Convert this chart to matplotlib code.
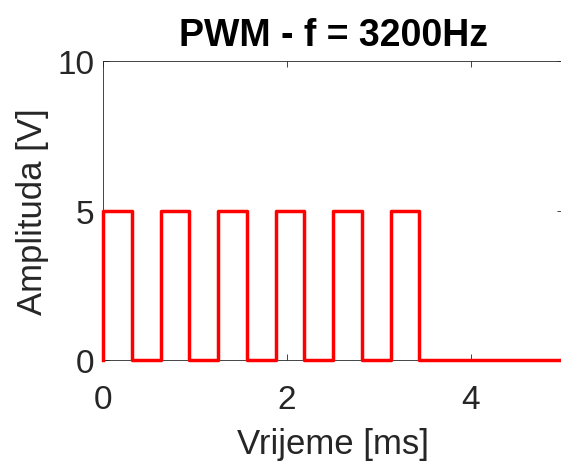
import matplotlib
matplotlib.use("Agg")
import matplotlib.pyplot as plt

plt.rcParams['font.family'] = ['Liberation Sans', 'DejaVu Sans']

# Data: transition times (ms) and signal levels (V)
t_ms = [0, 0, 0.3125, 0.625, 0.9375, 1.25, 1.5625, 1.875, 2.1875, 2.5, 2.8125, 3.125, 3.4375, 5.0]
v_volt = [0, 5, 0, 5, 0, 5, 0, 5, 0, 5, 0, 5, 0, 0]
x_ticks = [0, 2, 4]
y_ticks = [0, 5, 10]

fig = plt.figure(figsize=(5.61, 4.64), dpi=100)
ax = fig.add_axes([0.1836, 0.222, 0.82, 0.644])

ax.step(t_ms, v_volt, where='post', color='#ff0000', linewidth=2.5, clip_on=False, zorder=3)

ax.set_xlim(0, 5)
ax.set_ylim(0, 10)
ax.set_xticks(x_ticks)
ax.set_yticks(y_ticks)

gray = '#262626'
for s in ax.spines.values():
    s.set_color(gray)
    s.set_linewidth(0.6)
ax.tick_params(direction='in', length=4, width=0.6, colors=gray, labelsize=24,
               top=True, right=True, pad=6)
ax.tick_params(axis='x', pad=17)

ax.set_xlabel('Vrijeme [ms]', fontsize=25, color=gray, labelpad=9)
ax.set_ylabel('Amplituda [V]', fontsize=25, color=gray, labelpad=6)
ax.set_title('PWM - f = 3200Hz', fontsize=27, fontweight='bold', color='black', pad=12)

fig.savefig('out.png', dpi=100)
